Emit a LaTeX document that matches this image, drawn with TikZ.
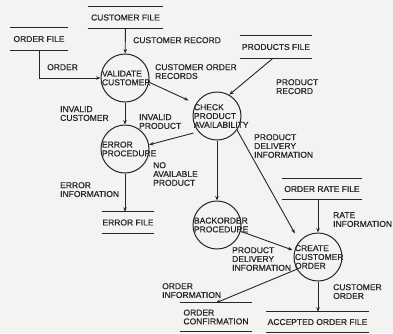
\documentclass[tikz,border=0pt]{standalone}
\usepackage{fontspec}
\setmainfont{Liberation Sans}[UprightFeatures={FakeBold=0.5}]
\usepackage{tikz}
\usetikzlibrary{arrows.meta, positioning}
\usepackage{xcolor}
\definecolor{ink}{HTML}{262626}
\definecolor{paper}{HTML}{F3F3F1}
\newcommand{\dfdfont}{\fontsize{8.5}{8.8}\selectfont}
\hyphenpenalty=10000

\begin{document}
\begin{tikzpicture}[x=1pt, y=-1pt,
    process/.style={circle, draw=ink, line width=1pt, minimum size=48pt, inner sep=-4pt, text width=46pt, align=left, font=\dfdfont, text=ink},
    storeline/.style={-, draw=ink, line width=1pt},
    store/.style={rectangle, minimum height=22pt, inner sep=0pt, align=center, font=\dfdfont, text=ink,
        append after command={(\tikzlastnode.north west) edge[storeline] (\tikzlastnode.north east)
                              (\tikzlastnode.south west) edge[storeline] (\tikzlastnode.south east)}},
    flow/.style={-{Stealth[length=4.5pt, width=3.5pt]}, draw=ink, line width=0.9pt},
    tag/.style={anchor=north west, inner sep=0pt, align=left, font=\dfdfont, text=ink},
]

\path[use as bounding box, fill=paper] (0,0) rectangle (393,333);

% Processes
\node[process] (validate) at (125,78) {VALIDATE\\CUSTOMER};
\node[process] (check) at (217,116) {CHECK\\PRODUCT\\AVAILABILITY};
\node[process] (error) at (125,149) {ERROR\\PROCEDURE};
\node[process] (backorder) at (217,225) {BACKORDER\\PROCEDURE};
\node[process] (create) at (318,257) {CREATE\\CUSTOMER\\ORDER};

% Files
\node[store, minimum width=75pt] (customerfile) at (125.5,17.5) {CUSTOMER FILE};
\node[store, minimum width=58pt] (orderfile) at (39,39) {ORDER FILE};
\node[store, minimum width=72pt] (productsfile) at (276,47) {PRODUCTS FILE};
\node[store, minimum width=52pt, minimum height=21pt] (errorfile) at (128,222.5) {ERROR FILE};
\node[store, minimum width=80pt, minimum height=20pt] (orderratefile) at (322,189) {ORDER RATE FILE};
\node[store, minimum width=72pt, minimum height=28pt, align=left] (confirmfile) at (216,317) {ORDER\\CONFIRMATION};
\node[store, minimum width=102pt, minimum height=20pt] (acceptedfile) at (317.5,322) {ACCEPTED ORDER FILE};

% Flows
\draw[flow] (customerfile) -- (validate);
\draw[flow] (orderfile.south) |- (validate);
\draw[flow, shorten >=8pt] (validate.-10) -- (check.150);
\draw[flow] ([xshift=-3pt]productsfile.south) -- (check.60);
\draw[flow] (validate) -- (error);
\draw[flow, shorten <=5pt] (check.-140) -- (error.10);
\draw[flow] (error) -- (error |- errorfile.north);
\draw[flow] (check) -- (backorder);
\draw[flow, shorten >=9pt] (check.-35) -- (create.140);
\draw[flow, shorten >=2pt] (backorder.-15) -- (create.165);
\draw[flow] (orderratefile.south -| create.north) -- (create.north);
\draw[flow] (create.-150) -- (confirmfile.north);
\draw[flow] (create) -- (create |- acceptedfile.north);

% Flow labels
\node[tag] (custrecordtag) at (133,37) {CUSTOMER RECORD};
\node[tag] (ordertag) at (47,64) {ORDER};
\node[tag] (custordertag) at (155,64) {CUSTOMER ORDER\\RECORDS};
\node[tag] (prodrecordtag) at (276,79) {PRODUCT\\RECORD};
\node[tag] (invalidcusttag) at (60,106) {INVALID\\CUSTOMER};
\node[tag] (invalidprodtag) at (139,114) {INVALID\\PRODUCT};
\node[tag] (deliverytag) at (254,134) {PRODUCT\\DELIVERY\\INFORMATION};
\node[tag] (noproducttag) at (153,162) {NO\\AVAILABLE\\PRODUCT};
\node[tag] (errorinfotag) at (60,182) {ERROR\\INFORMATION};
\node[tag] (backdeliverytag) at (232,247) {PRODUCT\\DELIVERY\\INFORMATION};
\node[tag] (ratetag) at (333,212) {RATE\\INFORMATION};
\node[tag] (custordtag) at (333,284) {CUSTOMER\\ORDER};
\node[tag] (orderinfotag) at (162,283) {ORDER\\INFORMATION};

\end{tikzpicture}
\end{document}
